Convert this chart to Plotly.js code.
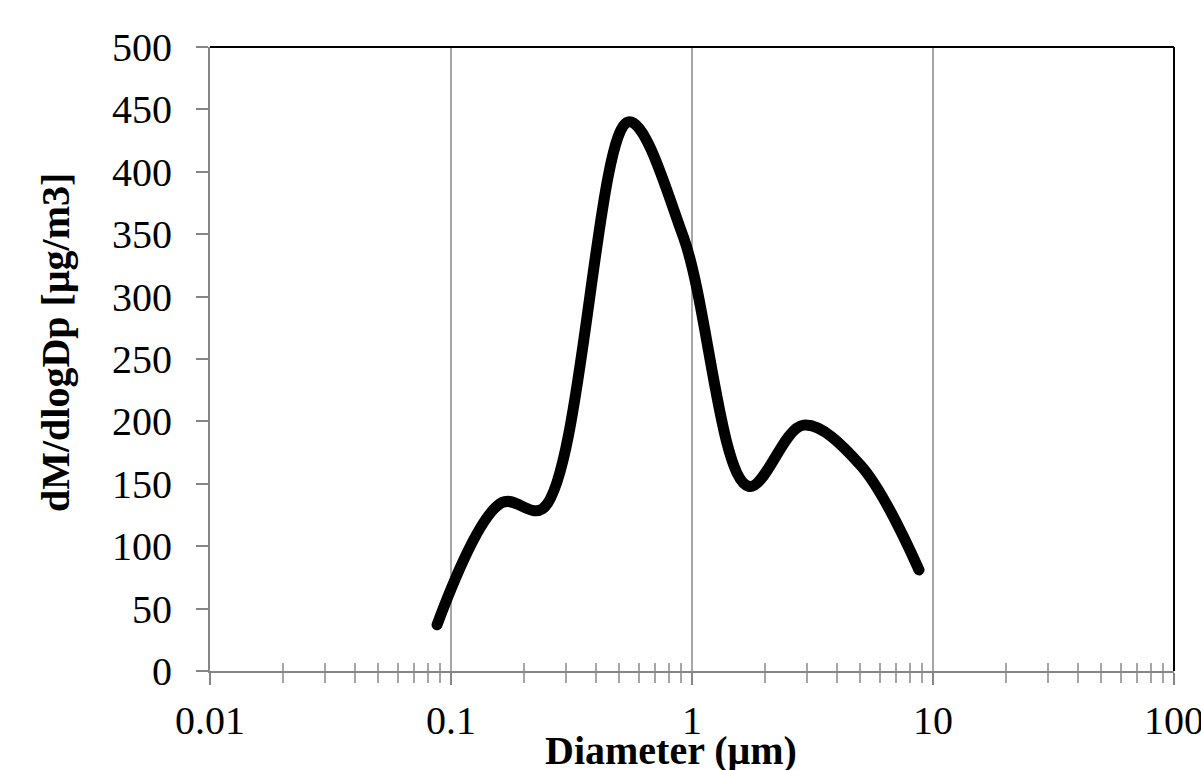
<!DOCTYPE html>
<html>
<head>
<meta charset="utf-8">
<script src="https://cdn.plot.ly/plotly-3.0.1.min.js"></script>
<style>
  html, body { margin: 0; padding: 0; background: #fff; }
  #chart { width: 1201px; height: 770px; }
  .scatterlayer path.js-line { stroke-linecap: round; stroke-linejoin: round; }
</style>
</head>
<body>
<div id="chart"></div>
<script>
// Data
const diameters = [0.0875, 0.163, 0.24, 0.545, 0.92, 1.72, 2.9, 5.0, 8.75];
const dMdlogDp  = [37, 135, 130, 440, 348, 148, 197, 165, 81];

const majorTicks = [0.01, 0.1, 1, 10, 100];
const majorLabels = ['0.01', '0.1', '1', '10', '100'];
const minorTicks = [0.02,0.03,0.04,0.05,0.06,0.07,0.08,0.09,
                    0.2,0.3,0.4,0.5,0.6,0.7,0.8,0.9,
                    2,3,4,5,6,7,8,9,
                    20,30,40,50,60,70,80,90];
const allTicks = majorTicks.concat(minorTicks);
const xTitle = 'Diameter (μm)';
const yTitle = 'dM/dlogDp [μg/m3]';

const serif = 'Liberation Serif, Times New Roman, serif';
const axisGray = '#868686';

const data = [
  {
    x: diameters, y: dMdlogDp, type: 'scatter', mode: 'lines',
    line: { color: '#000000', width: 11, shape: 'spline', smoothing: 1 },
    hoverinfo: 'x+y', showlegend: false
  },
  { x: [], y: [], xaxis: 'x2', yaxis: 'y', type: 'scatter', mode: 'lines', showlegend: false }
];

const layout = {
  width: 1201, height: 770,
  margin: { l: 210, r: 27, t: 47, b: 99 },
  paper_bgcolor: '#ffffff', plot_bgcolor: '#ffffff',
  font: { family: serif, color: '#000000', size: 40 },
  showlegend: false,
  xaxis: {
    type: 'log', range: [-2, 2],
    tickmode: 'array', tickvals: majorTicks, ticktext: majorLabels,
    ticks: 'outside', ticklen: 12, tickwidth: 2, tickcolor: axisGray,
    showgrid: true, gridcolor: '#a6a6a6', gridwidth: 2,
    showline: true, linecolor: axisGray, linewidth: 2,
    zeroline: false, automargin: false,
    minor: { tickmode: 'array', tickvals: minorTicks, ticks: 'outside', ticklen: 10, tickwidth: 2, tickcolor: '#a6a6a6', showgrid: false },
    tickfont: { family: serif, size: 40, color: '#000' },
    ticklabelstandoff: 1,
    ticklabeloverflow: 'allow'
  },
  xaxis2: {
    type: 'log', range: [-2, 2], overlaying: 'x', anchor: 'y', side: 'bottom',
    tickmode: 'array', tickvals: allTicks,
    ticks: 'inside', ticklen: 8, tickwidth: 2, tickcolor: '#a6a6a6',
    showticklabels: false, showgrid: false, showline: false, zeroline: false
  },
  yaxis: {
    range: [0, 500], tickmode: 'linear', tick0: 0, dtick: 50,
    ticks: 'outside', ticklen: 12, tickwidth: 2, tickcolor: axisGray,
    showgrid: false, showline: true, linecolor: axisGray, linewidth: 2,
    zeroline: false, automargin: false,
    tickfont: { family: serif, size: 40, color: '#000' },
    ticklabelstandoff: 16
  },
  annotations: [
    { text: '<b>' + xTitle + '</b>', xref: 'paper', yref: 'paper', x: 0.5, y: 0,
      xanchor: 'center', yanchor: 'top', xshift: -21, yshift: -55, showarrow: false,
      font: { family: serif, size: 40, color: '#000' } },
    { text: '<b>' + yTitle + '</b>', xref: 'paper', yref: 'paper', x: 0, y: 0.5,
      xanchor: 'center', yanchor: 'middle', xshift: -155, yshift: 16, textangle: -90, showarrow: false,
      font: { family: serif, size: 40, color: '#000' } }
  ],
  shapes: [
    { type: 'line', xref: 'paper', yref: 'paper', x0: 0, x1: 1, y0: 1, y1: 1, line: { color: '#000', width: 2 } },
    { type: 'line', xref: 'paper', yref: 'paper', x0: 1, x1: 1, y0: 0, y1: 1, line: { color: '#000', width: 2 } }
  ]
};

Plotly.newPlot('chart', data, layout, { displayModeBar: false, staticPlot: true });
</script>
</body>
</html>
